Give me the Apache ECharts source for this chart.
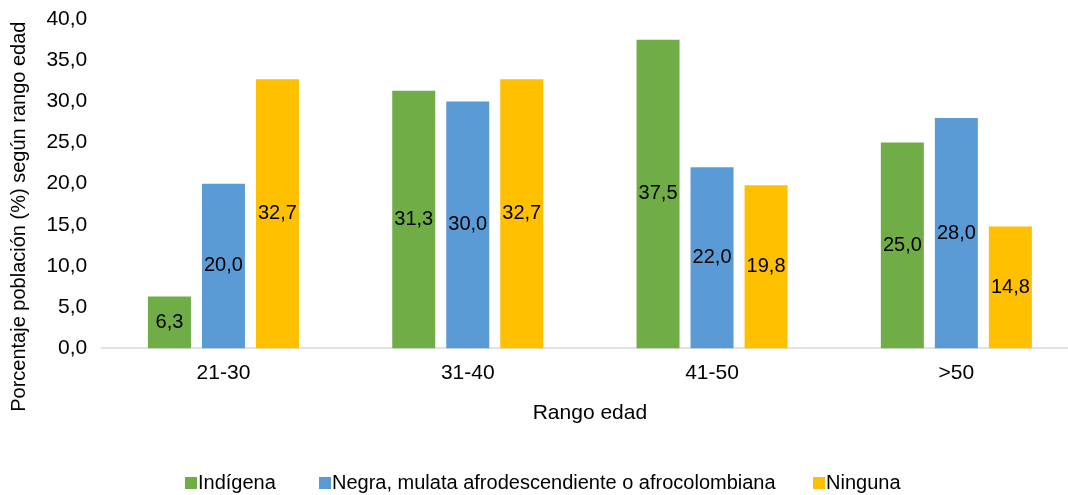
<!DOCTYPE html>
<html>
<head>
<meta charset="utf-8">
<script src="https://cdn.jsdelivr.net/npm/echarts@6/dist/echarts.min.js"></script>
<style>
  html, body { margin: 0; padding: 0; background: #ffffff; overflow: hidden; }
  #chart { width: 1079px; height: 495px; }
</style>
</head>
<body>
<div id="chart"></div>
<script>
// Age ranges on the category axis
const categories = ['21-30', '31-40', '41-50', '>50'];

// Share of each self-identified group per age range (%)
const indigena = [6.3, 31.3, 37.5, 25.0];
const negra = [20.0, 30.0, 22.0, 28.0];
const ninguna = [32.7, 32.7, 19.8, 14.8];

const seriesNames = ['Indígena', 'Negra, mulata afrodescendiente o afrocolombiana', 'Ninguna'];
const seriesColors = ['#70AD47', '#5B9BD5', '#FFC000'];

const FONT = '"Liberation Sans", Arial, sans-serif';
const fmt = v => v.toFixed(1).replace('.', ',');

const chart = echarts.init(document.getElementById('chart'), null, { renderer: 'canvas' });

function barSeries(name, data, color) {
  return {
    name: name,
    type: 'bar',
    data: data,
    barWidth: 43,
    barGap: '25.6%',
    itemStyle: { color: color },
    label: {
      show: true,
      position: 'inside',
      color: '#000',
      fontFamily: FONT,
      fontSize: 20,
      formatter: p => fmt(p.value)
    }
  };
}

function legendAt(name, left) {
  return {
    data: [name],
    left: left,
    top: 473,
    icon: 'rect',
    itemWidth: 12,
    itemHeight: 12,
    itemGap: 0,
    padding: 0,
    textStyle: { fontFamily: FONT, fontSize: 20, color: '#000', padding: [0, 0, 0, -4] }
  };
}

chart.setOption({
  backgroundColor: '#ffffff',
  animation: false,
  color: seriesColors,
  grid: { left: 101.3, right: 0.5, top: 19.2, bottom: 146.8, containLabel: false },
  legend: [
    legendAt(seriesNames[0], 185),
    legendAt(seriesNames[1], 319),
    legendAt(seriesNames[2], 813)
  ],
  xAxis: {
    type: 'category',
    data: categories,
    name: 'Rango edad',
    nameLocation: 'middle',
    nameGap: 55,
    nameTextStyle: { fontFamily: FONT, fontSize: 21, color: '#000' },
    axisLine: { show: true, lineStyle: { color: '#d9d9d9', width: 1.5 } },
    axisTick: { show: false },
    axisLabel: { fontFamily: FONT, fontSize: 21, color: '#000', margin: 15 }
  },
  yAxis: {
    type: 'value',
    min: 0,
    max: 40,
    interval: 5,
    name: 'Porcentaje población (%) según rango edad',
    nameLocation: 'middle',
    nameGap: 72,
    nameTextStyle: { fontFamily: FONT, fontSize: 20, color: '#000', padding: [0, 66, 0, 0] },
    axisLine: { show: false },
    axisTick: { show: false },
    splitLine: { show: false },
    axisLabel: { fontFamily: FONT, fontSize: 21, color: '#000', margin: 14, formatter: v => fmt(v) }
  },
  series: [
    barSeries(seriesNames[0], indigena, seriesColors[0]),
    barSeries(seriesNames[1], negra, seriesColors[1]),
    barSeries(seriesNames[2], ninguna, seriesColors[2])
  ]
});
</script>
</body>
</html>
